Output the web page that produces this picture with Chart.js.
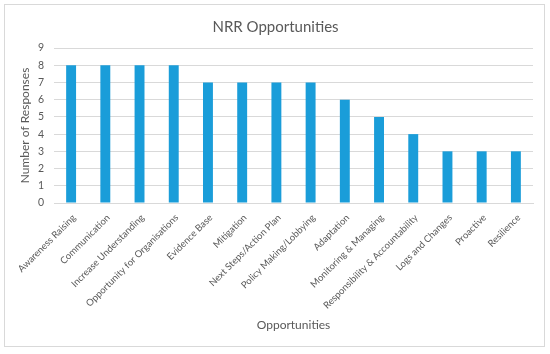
<!DOCTYPE html>
<html>
<head>
<meta charset="utf-8">
<script src="https://cdn.jsdelivr.net/npm/chart.js@4"></script>
<style>
  html, body { margin: 0; padding: 0; background: #fff; }
  #frame {
    position: absolute; left: 4px; top: 4px;
    width: 541px; height: 343px;
    border: 1px solid #d9d9d9;
    box-sizing: border-box;
  }
  canvas { display: block; }
</style>
</head>
<body>
<div id="frame"><canvas id="chart" width="539" height="341"></canvas></div>
<script>
// datos del grafico
const categories = [
  'Awareness Raising', 'Communication', 'Increase Understanding',
  'Opportunity for Organisations', 'Evidence Base', 'Mitigation',
  'Next Steps/Action Plan', 'Policy Making/Lobbying', 'Adaptation',
  'Monitoring & Managing', 'Responsibility & Accountability',
  'Logs and Changes', 'Proactive', 'Resilience'
];
const responses = [8, 8, 8, 8, 7, 7, 7, 7, 6, 5, 4, 3, 3, 3];
const yTicks = [0, 1, 2, 3, 4, 5, 6, 7, 8, 9];

const textColor = '#595959';
const fontFamily = 'Lato, "Open Sans", sans-serif';

const ctx = document.getElementById('chart').getContext('2d');
new Chart(ctx, {
  type: 'bar',
  data: {
    labels: categories,
    datasets: [{
      label: 'Number of Responses',
      data: responses,
      backgroundColor: '#1a9dd9',
      borderWidth: 0,
      barPercentage: 0.29,
      categoryPercentage: 1
    }]
  },
  options: {
    responsive: false,
    animation: false,
    layout: { padding: { left: 13, right: 11, top: 4, bottom: 14 } },
    plugins: {
      legend: { display: false },
      tooltip: { enabled: false },
      title: {
        display: true,
        text: 'NRR Opportunities',
        color: textColor,
        font: { family: fontFamily, size: 15, weight: 'normal' },
        padding: { top: 9, bottom: 12 }
      }
    },
    scales: {
      x: {
        afterFit: scale => { scale.height = 129; },
        grid: { display: false, drawTicks: false },
        border: { color: '#d9d9d9' },
        ticks: {
          color: textColor,
          font: { family: fontFamily, size: 9.5 },
          minRotation: 45,
          maxRotation: 45,
          autoSkip: false,
          padding: 9,
          labelOffset: 3
        },
        title: {
          display: true,
          text: 'Opportunities',
          color: textColor,
          font: { family: fontFamily, size: 12 },
          padding: { top: 2, bottom: 0 }
        }
      },
      y: {
        min: yTicks[0],
        max: yTicks[yTicks.length - 1],
        afterBuildTicks: axis => { axis.ticks = yTicks.map(v => ({ value: v })); },
        afterFit: scale => { scale.width = 36; },
        grid: { color: '#d9d9d9', drawTicks: false },
        border: { display: false },
        ticks: {
          color: textColor,
          font: { family: fontFamily, size: 10.5 },
          padding: 10
        },
        title: {
          display: true,
          text: 'Number of Responses',
          color: textColor,
          font: { family: fontFamily, size: 12 },
          padding: { top: 0, bottom: 0 }
        }
      }
    }
  }
});
</script>
</body>
</html>
